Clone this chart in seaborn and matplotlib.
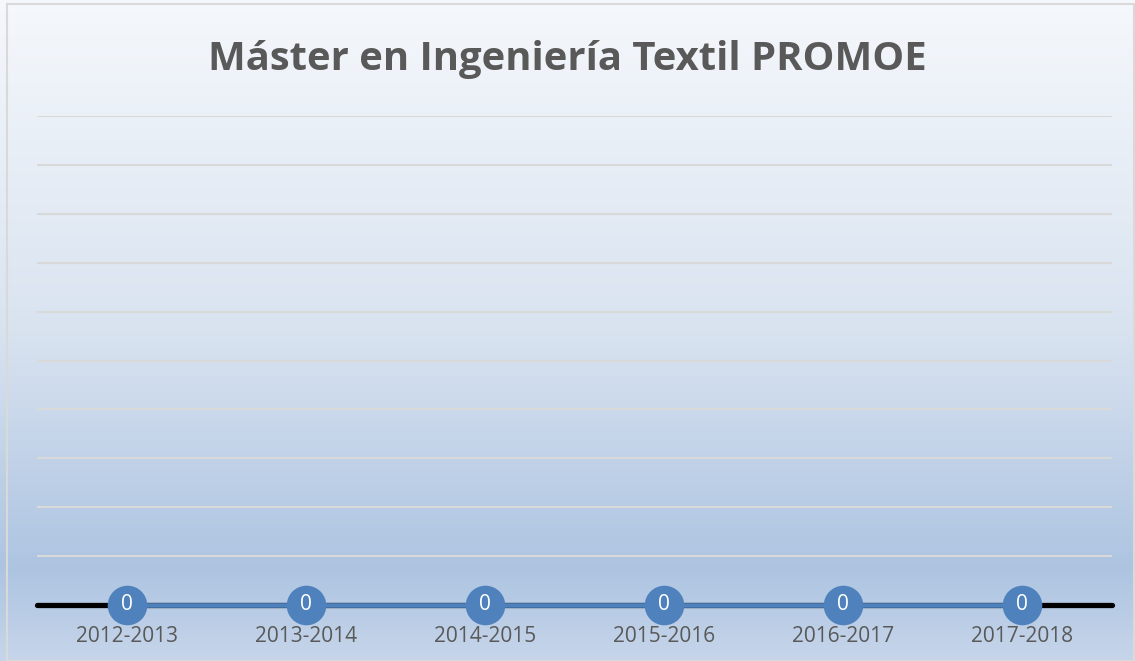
import numpy as np
import pandas as pd
import matplotlib
matplotlib.use("Agg")
import matplotlib.pyplot as plt
from matplotlib.colors import LinearSegmentedColormap
from matplotlib.patches import Rectangle
import seaborn as sns

# data
cursos = ["2012-2013", "2013-2014", "2014-2015", "2015-2016", "2016-2017", "2017-2018"]
alumnos = [0, 0, 0, 0, 0, 0]
titulo = "Máster en Ingeniería Textil PROMOE"

azul = "#4F81BD"
gris_texto = "#595959"
gris_rejilla = "#D9D9D9"

sns.set_theme(style="white")
plt.rcParams["font.family"] = ["Open Sans", "DejaVu Sans"]

df = pd.DataFrame({"curso": cursos, "alumnos": alumnos})

fig = plt.figure(figsize=(11.35, 6.61), dpi=100)

# background gradient of the chart area
bg = fig.add_axes([0, 0, 1, 1], zorder=-10)
fondo = LinearSegmentedColormap.from_list(
    "fondo",
    [(0.0, "#F5F8FC"), (0.5, "#D9E3F0"), (0.86, "#ADC4E1"), (1.0, "#C6D5EA")],
)
grad = np.linspace(0, 1, 256).reshape(-1, 1)
bg.imshow(grad, aspect="auto", cmap=fondo, extent=[0, 1, 0, 1], origin="upper")
bg.set_xlim(0, 1)
bg.set_ylim(0, 1)
bg.axis("off")
fig.patches.append(Rectangle((7 / 1135, 0), 1127 / 1135, 657 / 661, transform=fig.transFigure,
                             fill=False, edgecolor=gris_rejilla, linewidth=1.5, zorder=5))

ax = fig.add_axes([37 / 1135, 56 / 661, 1075 / 1135, 489 / 661])
ax.patch.set_alpha(0)

sns.lineplot(data=df, x="curso", y="alumnos", ax=ax, color=azul, linewidth=3.4,
             marker="o", markersize=28.5, markeredgewidth=0, clip_on=False, zorder=4)

ax.axhline(0, color="black", linewidth=3.8, zorder=3, clip_on=False)
for i, v in enumerate(df["alumnos"]):
    ax.text(i, v, str(v), color="white", ha="center", va="center", fontsize=15, zorder=6)

ax.set_xlim(-0.5, len(cursos) - 0.5)
ax.set_ylim(0, 1)
ax.set_yticks(np.arange(0.1, 1.01, 0.1))
ax.yaxis.grid(True, color=gris_rejilla, linewidth=1.5)
ax.set_yticklabels([])
ax.tick_params(axis="y", length=0)
ax.tick_params(axis="x", length=0, pad=15, labelsize=15, labelcolor=gris_texto)
ax.set_xlabel("")
ax.set_ylabel("")
for s in ax.spines.values():
    s.set_visible(False)

fig.text(0.5, 1 - 70 / 661, titulo, ha="center", va="baseline", fontsize=28.8,
         fontweight="bold", color=gris_texto)

fig.savefig("out.png", dpi=100)
